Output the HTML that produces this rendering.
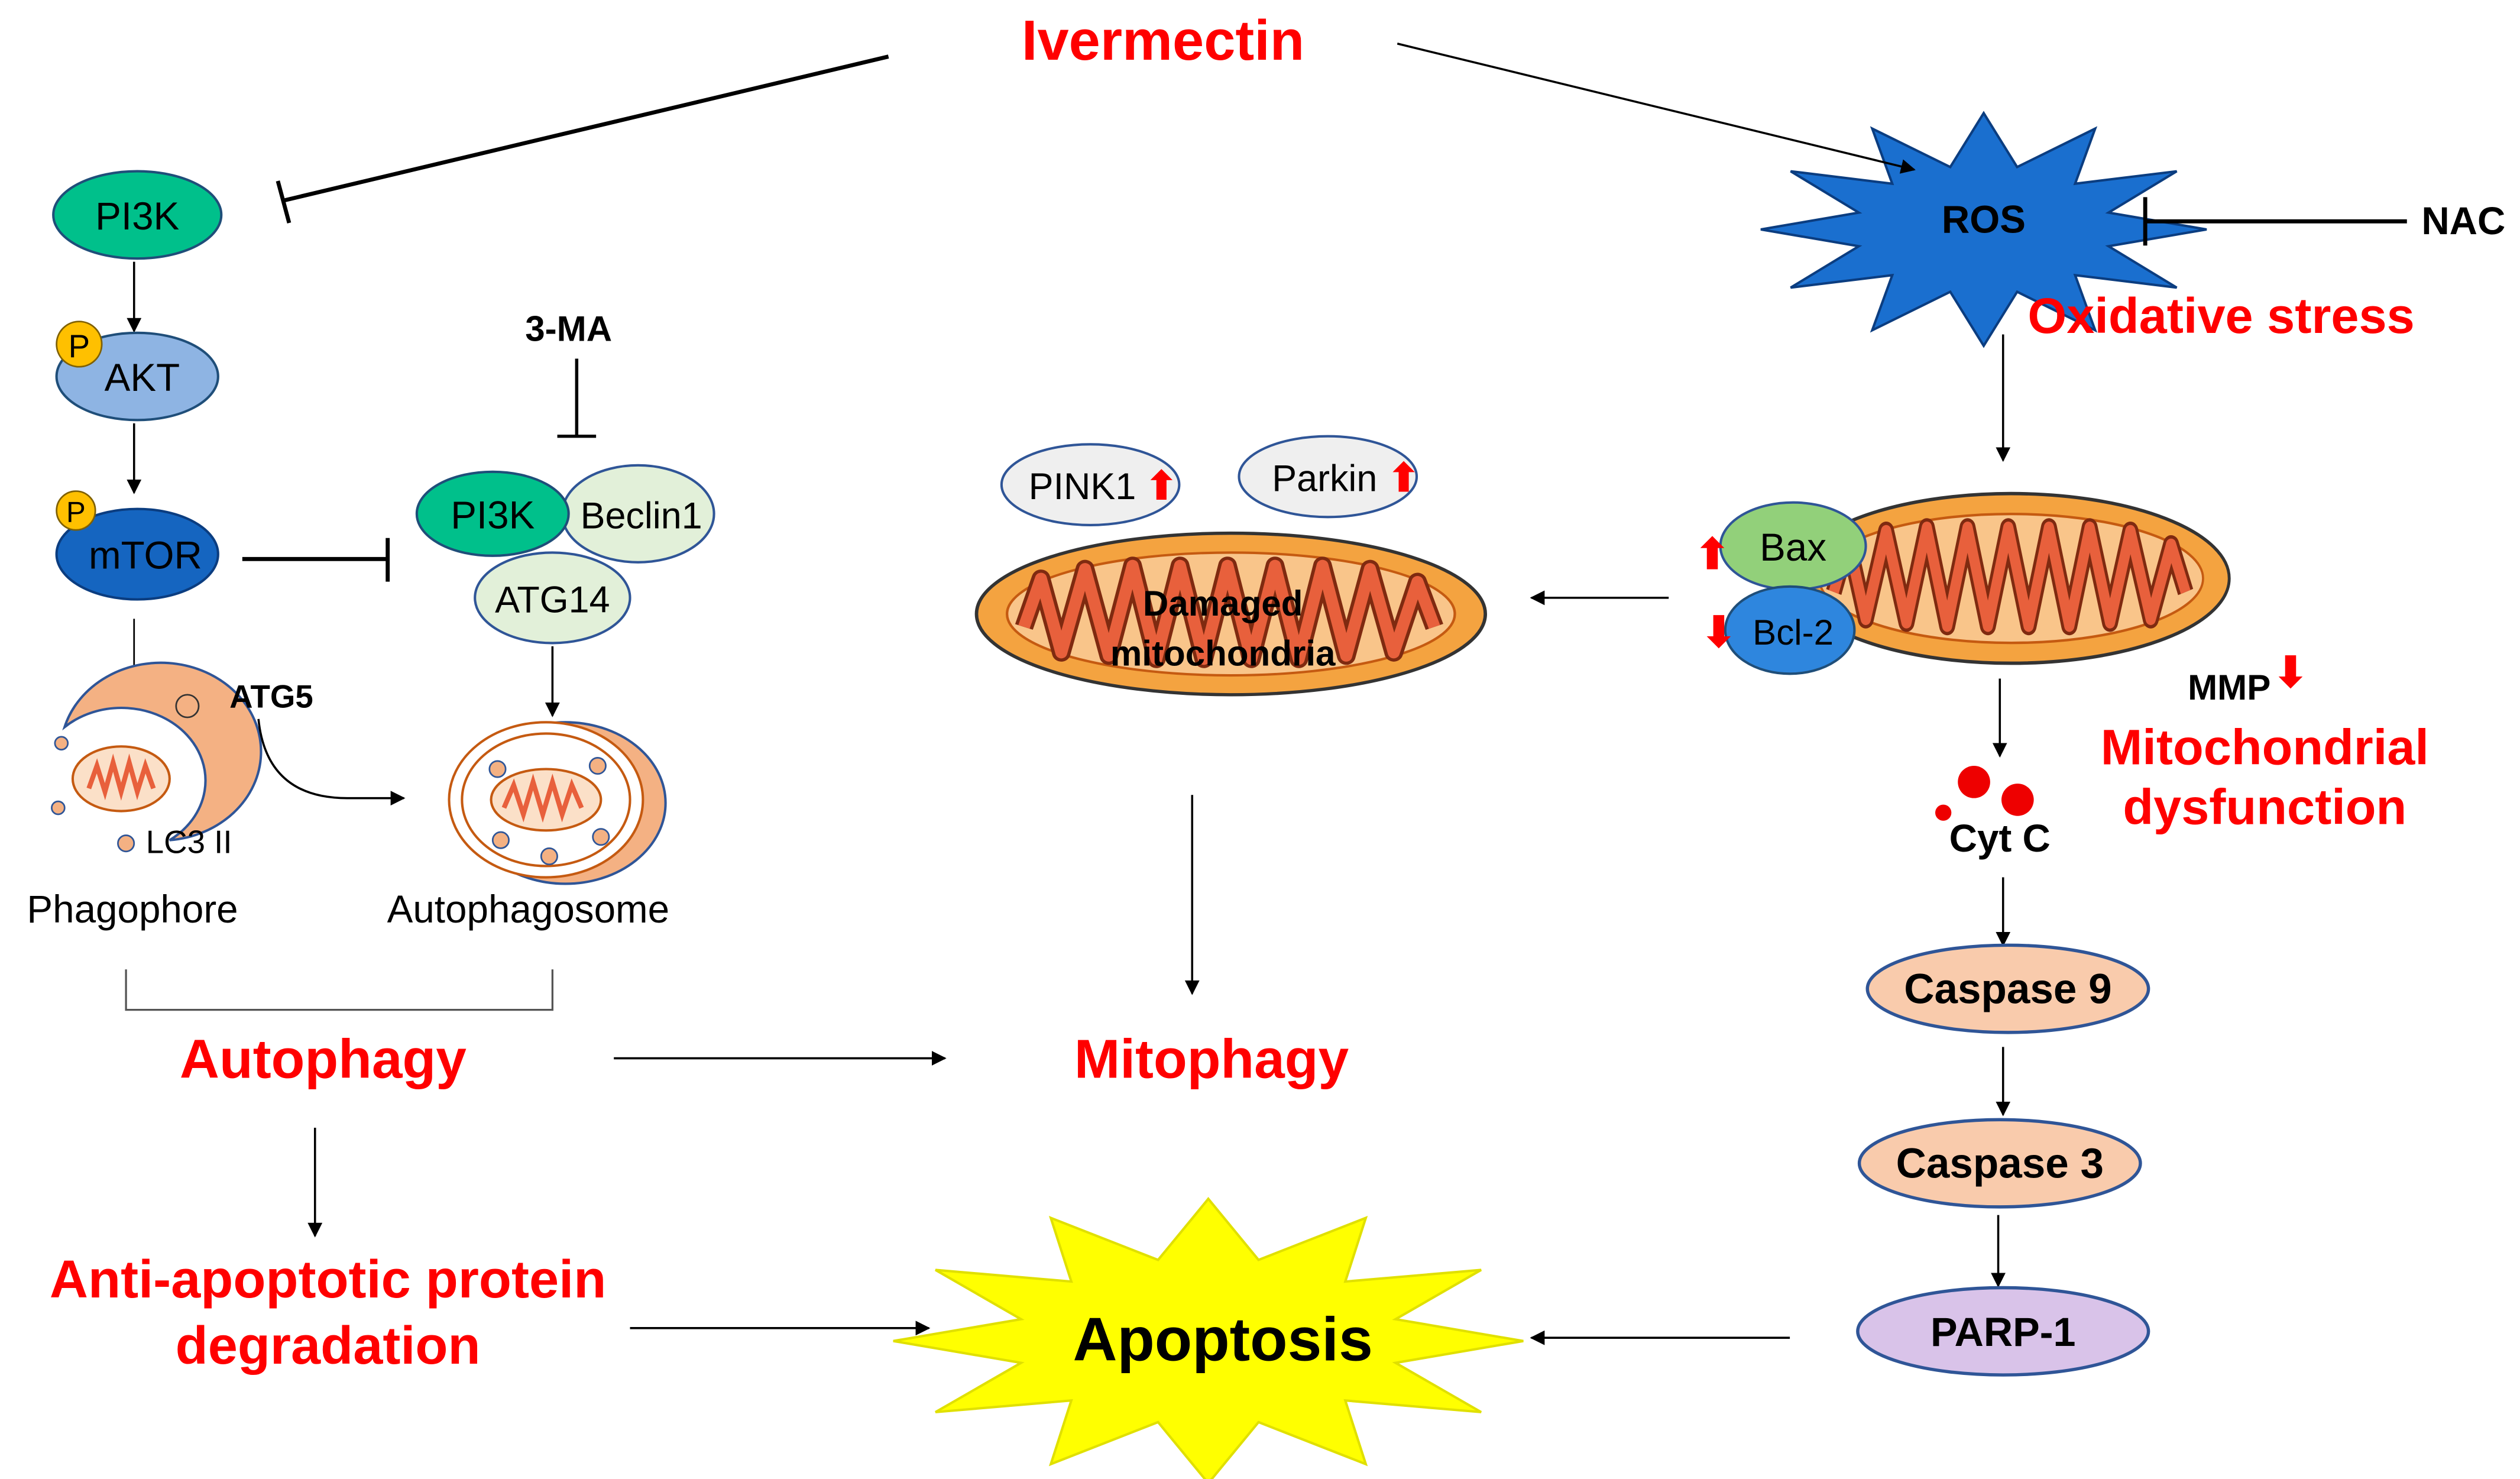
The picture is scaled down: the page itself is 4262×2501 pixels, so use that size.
<!DOCTYPE html>
<html><head><meta charset="utf-8"><style>
html,body{margin:0;padding:0;background:#fff;}
svg{display:block;}
text{font-family:"Liberation Sans",Arial,sans-serif;}
.r{fill:#ff0000;font-weight:bold;}
.b{font-weight:bold;fill:#000;}
</style></head><body>
<svg width="4262" height="2501" viewBox="0 0 1560 915.4" preserveAspectRatio="none" xmlns="http://www.w3.org/2000/svg">
<defs>
<marker id="ar" viewBox="0 0 10 10" refX="9" refY="5" markerWidth="7" markerHeight="7" orient="auto-start-reverse">
<path d="M0,0 L10,5 L0,10 z" fill="#000"/></marker>
<g id="mito">
<ellipse cx="0" cy="0" rx="150" ry="50" fill="#f4a340" stroke="#333" stroke-width="2"/>
<ellipse cx="0" cy="0" rx="132" ry="38" fill="#f9c58a" stroke="#c55a11" stroke-width="1.5"/>
<path d="M-122,8 L-112,-22 L-100,24 L-86,-28 L-72,26 L-58,-30 L-44,28 L-30,-30 L-16,28 L-2,-30 L12,28 L26,-30 L40,28 L54,-30 L68,26 L82,-28 L96,24 L110,-20 L120,8" fill="none" stroke="#7f2a10" stroke-width="11" stroke-linejoin="round"/>
<path d="M-122,8 L-112,-22 L-100,24 L-86,-28 L-72,26 L-58,-30 L-44,28 L-30,-30 L-16,28 L-2,-30 L12,28 L26,-30 L40,28 L54,-30 L68,26 L82,-28 L96,24 L110,-20 L120,8" fill="none" stroke="#e8603c" stroke-width="7" stroke-linejoin="round"/>
</g>
</defs>

<!-- ROS -->
<polygon points="1366,142 1305.3,152.4 1347.5,178 1284.6,170.3 1297,204.4 1248.7,180.6 1228,214 1207.3,180.6 1159,204.4 1171.4,170.3 1108.5,178 1150.7,152.4 1090,142 1150.7,131.6 1108.5,106 1171.4,113.7 1159,79.6 1207.3,103.4 1228,70 1248.7,103.4 1297,79.6 1284.6,113.7 1347.5,106 1305.3,131.6" fill="#1a6fcf" stroke="#0b3d80" stroke-width="1.5"/>
<text x="1228" y="144" class="b" font-size="24" text-anchor="middle">ROS</text>

<!-- Ivermectin -->
<text x="720" y="37" class="r" font-size="35" text-anchor="middle">Ivermectin</text>
<line x1="550" y1="35" x2="176" y2="124" stroke="#000" stroke-width="2.5"/>
<line x1="172" y1="112" x2="179" y2="138" stroke="#000" stroke-width="2.5"/>
<line x1="865" y1="27" x2="1185" y2="105" stroke="#000" stroke-width="1.3" marker-end="url(#ar)"/>

<line x1="1490" y1="137" x2="1328" y2="137" stroke="#000" stroke-width="2.5"/>
<line x1="1328" y1="122" x2="1328" y2="152" stroke="#000" stroke-width="2.5"/>
<text x="1525" y="145" class="b" font-size="24" text-anchor="middle">NAC</text>
<text x="1375" y="206" class="r" font-size="31" text-anchor="middle">Oxidative stress</text>
<line x1="1240" y1="207" x2="1240" y2="285" stroke="#000" stroke-width="1.3" marker-end="url(#ar)"/>

<!-- right mito -->
<use href="#mito" transform="translate(1245,358) scale(0.9,1.05)"/>
<ellipse cx="1110" cy="338" rx="45" ry="27" fill="#92d07a" stroke="#2f5597" stroke-width="1.5"/>
<text x="1110" y="347" font-size="24" text-anchor="middle">Bax</text>
<ellipse cx="1108" cy="390" rx="40" ry="27" fill="#2e86de" stroke="#1f4e79" stroke-width="1.5"/>
<text x="1110" y="399" font-size="22" text-anchor="middle">Bcl-2</text>
<text x="1060" y="352" class="r" font-size="26" text-anchor="middle">⬆</text>
<text x="1064" y="400" class="r" font-size="26" text-anchor="middle">⬇</text>
<line x1="1033" y1="370" x2="948" y2="370" stroke="#000" stroke-width="1.3" marker-end="url(#ar)"/>
<text x="1380" y="433" class="b" font-size="22" text-anchor="middle">MMP</text>
<text x="1418" y="425" class="r" font-size="26" text-anchor="middle">⬇</text>
<text x="1402" y="473" class="r" font-size="31" text-anchor="middle">Mitochondrial</text>
<text x="1402" y="510" class="r" font-size="31" text-anchor="middle">dysfunction</text>
<line x1="1238" y1="420" x2="1238" y2="468" stroke="#000" stroke-width="1.3" marker-end="url(#ar)"/>
<circle cx="1222" cy="484" r="10" fill="#e00"/>
<circle cx="1249" cy="495" r="10" fill="#e00"/>
<circle cx="1203" cy="503" r="5" fill="#e00"/>
<text x="1238" y="527" class="b" font-size="24" text-anchor="middle">Cyt C</text>
<line x1="1240" y1="543" x2="1240" y2="585" stroke="#000" stroke-width="1.3" marker-end="url(#ar)"/>
<ellipse cx="1243" cy="612" rx="87" ry="27" fill="#f9cbac" stroke="#2f5597" stroke-width="2"/>
<text x="1243" y="621" class="b" font-size="26" text-anchor="middle">Caspase 9</text>
<line x1="1240" y1="648" x2="1240" y2="690" stroke="#000" stroke-width="1.3" marker-end="url(#ar)"/>
<ellipse cx="1238" cy="720" rx="87" ry="27" fill="#f9cbac" stroke="#2f5597" stroke-width="2"/>
<text x="1238" y="729" class="b" font-size="26" text-anchor="middle">Caspase 3</text>
<line x1="1237" y1="752" x2="1237" y2="796" stroke="#000" stroke-width="1.3" marker-end="url(#ar)"/>
<ellipse cx="1240" cy="824" rx="90" ry="27" fill="#d9c3e9" stroke="#2f5597" stroke-width="2"/>
<text x="1240" y="833" class="b" font-size="25" text-anchor="middle">PARP-1</text>
<line x1="1108" y1="828" x2="948" y2="828" stroke="#000" stroke-width="1.3" marker-end="url(#ar)"/>

<!-- Apoptosis -->
<polygon points="943,830 863.9,843.5 916.9,874 832.8,866.8 845.5,906.2 779.1,880.2 748,918 716.9,880.2 650.5,906.2 663.2,866.8 579.1,874 632.1,843.5 553,830 632.1,816.5 579.1,786 663.2,793.2 650.5,753.8 716.9,779.8 748,742 779.1,779.8 845.5,753.8 832.8,793.2 916.9,786 863.9,816.5" fill="#ffff00" stroke="#e0e000" stroke-width="1.5"/>
<text x="757" y="842" class="b" font-size="38" text-anchor="middle">Apoptosis</text>
<line x1="390" y1="822" x2="575" y2="822" stroke="#000" stroke-width="1.3" marker-end="url(#ar)"/>
<text x="203" y="803" class="r" font-size="33" text-anchor="middle">Anti-apoptotic protein</text>
<text x="203" y="844" class="r" font-size="33" text-anchor="middle">degradation</text>
<line x1="195" y1="698" x2="195" y2="765" stroke="#000" stroke-width="1.3" marker-end="url(#ar)"/>
<text x="200" y="667" class="r" font-size="34" text-anchor="middle">Autophagy</text>
<text x="750" y="667" class="r" font-size="34" text-anchor="middle">Mitophagy</text>
<line x1="380" y1="655" x2="585" y2="655" stroke="#000" stroke-width="1.3" marker-end="url(#ar)"/>
<line x1="738" y1="492" x2="738" y2="615" stroke="#000" stroke-width="1.3" marker-end="url(#ar)"/>

<!-- damaged mito -->
<use href="#mito" transform="translate(762,380) scale(1.05,1)"/>
<ellipse cx="675" cy="300" rx="55" ry="25" fill="#efefef" stroke="#2f5597" stroke-width="1.5"/>
<text x="670" y="309" font-size="23" text-anchor="middle">PINK1</text>
<text x="719" y="309" class="r" font-size="24" text-anchor="middle">⬆</text>
<ellipse cx="822" cy="295" rx="55" ry="25" fill="#efefef" stroke="#2f5597" stroke-width="1.5"/>
<text x="820" y="304" font-size="23" text-anchor="middle">Parkin</text>
<text x="869" y="304" class="r" font-size="24" text-anchor="middle">⬆</text>
<text x="757" y="381" class="b" font-size="22" text-anchor="middle">Damaged</text>
<text x="757" y="412" class="b" font-size="22" text-anchor="middle">mitochondria</text>

<!-- left pathway -->
<ellipse cx="85" cy="133" rx="52" ry="27" fill="#00c08b" stroke="#1f4e79" stroke-width="1.5"/>
<text x="85" y="142" font-size="24" text-anchor="middle">PI3K</text>
<line x1="83" y1="162" x2="83" y2="205" stroke="#000" stroke-width="1.3" marker-end="url(#ar)"/>
<ellipse cx="85" cy="233" rx="50" ry="27" fill="#8eb4e3" stroke="#1f4e79" stroke-width="1.5"/>
<text x="88" y="242" font-size="24" text-anchor="middle">AKT</text>
<circle cx="49" cy="213" r="14" fill="#ffc000" stroke="#7f6000"/>
<text x="49" y="221" font-size="20" text-anchor="middle">P</text>
<line x1="83" y1="262" x2="83" y2="305" stroke="#000" stroke-width="1.3" marker-end="url(#ar)"/>
<ellipse cx="85" cy="343" rx="50" ry="28" fill="#1565c0" stroke="#0b3d80" stroke-width="1.5"/>
<text x="90" y="352" font-size="24" text-anchor="middle">mTOR</text>
<circle cx="47" cy="316" r="12" fill="#ffc000" stroke="#7f6000"/>
<text x="47" y="323" font-size="18" text-anchor="middle">P</text>
<line x1="150" y1="346" x2="240" y2="346" stroke="#000" stroke-width="2.5"/>
<line x1="240" y1="333" x2="240" y2="360" stroke="#000" stroke-width="2.5"/>
<line x1="83" y1="383" x2="83" y2="433" stroke="#000" stroke-width="1"/>
<line x1="68" y1="433" x2="98" y2="433" stroke="#000" stroke-width="1.5"/>

<!-- phagophore -->
<path d="M40,450 A62,55 0 1 1 105,520 A52,45 0 1 0 40,450 z" fill="#f4b183" stroke="#2f5597" stroke-width="1.5"/>
<ellipse cx="75" cy="482" rx="30" ry="20" fill="#fbe0c8" stroke="#c55a11" stroke-width="1.5"/>
<path d="M55,488 L60,474 L65,490 L70,472 L75,490 L80,472 L85,490 L90,474 L95,488" fill="none" stroke="#e8603c" stroke-width="3"/>
<circle cx="116" cy="437" r="7" fill="#f4b183" stroke="#333"/>
<circle cx="38" cy="460" r="4" fill="#f4b183" stroke="#2f5597"/>
<circle cx="36" cy="500" r="4" fill="#f4b183" stroke="#2f5597"/>
<circle cx="78" cy="522" r="5" fill="#f4b183" stroke="#2f5597"/>
<text x="168" y="438" class="b" font-size="20" text-anchor="middle">ATG5</text>
<path d="M160,445 Q165,494 215,494 L250,494" fill="none" stroke="#000" stroke-width="1.3" marker-end="url(#ar)"/>
<text x="117" y="528" font-size="20" text-anchor="middle">LC3 II</text>
<text x="82" y="571" font-size="24" text-anchor="middle">Phagophore</text>

<!-- autophagosome -->
<ellipse cx="350" cy="497" rx="62" ry="50" fill="#f4b183" stroke="#2f5597" stroke-width="1.5"/>
<ellipse cx="338" cy="495" rx="60" ry="48" fill="#fff" stroke="#c55a11" stroke-width="1.5"/>
<ellipse cx="338" cy="495" rx="52" ry="41" fill="#fff" stroke="#c55a11" stroke-width="1.5"/>
<ellipse cx="338" cy="495" rx="34" ry="19" fill="#fbe0c8" stroke="#c55a11" stroke-width="1.5"/>
<path d="M312,500 L318,486 L324,504 L330,484 L336,504 L342,484 L348,504 L354,486 L360,500" fill="none" stroke="#e8603c" stroke-width="3"/>
<circle cx="308" cy="476" r="5" fill="#f4b183" stroke="#2f5597"/>
<circle cx="370" cy="474" r="5" fill="#f4b183" stroke="#2f5597"/>
<circle cx="310" cy="520" r="5" fill="#f4b183" stroke="#2f5597"/>
<circle cx="340" cy="530" r="5" fill="#f4b183" stroke="#2f5597"/>
<circle cx="372" cy="518" r="5" fill="#f4b183" stroke="#2f5597"/>
<text x="327" y="571" font-size="24" text-anchor="middle">Autophagosome</text>
<path d="M78,600 L78,625 L342,625 L342,600" fill="none" stroke="#555" stroke-width="1.2"/>

<!-- 3-MA complex -->
<text x="352" y="211" class="b" font-size="22" text-anchor="middle">3-MA</text>
<line x1="357" y1="222" x2="357" y2="270" stroke="#000" stroke-width="2"/>
<line x1="345" y1="270" x2="369" y2="270" stroke="#000" stroke-width="2"/>
<ellipse cx="395" cy="318" rx="47" ry="30" fill="#e2f0d9" stroke="#2f5597" stroke-width="1.5"/>
<text x="397" y="327" font-size="23" text-anchor="middle">Beclin1</text>
<ellipse cx="305" cy="318" rx="47" ry="26" fill="#00c08b" stroke="#1f4e79" stroke-width="1.5"/>
<text x="305" y="327" font-size="24" text-anchor="middle">PI3K</text>
<ellipse cx="342" cy="370" rx="48" ry="28" fill="#e2f0d9" stroke="#2f5597" stroke-width="1.5"/>
<text x="342" y="379" font-size="23" text-anchor="middle">ATG14</text>
<line x1="342" y1="400" x2="342" y2="443" stroke="#000" stroke-width="1.3" marker-end="url(#ar)"/>
</svg>
</body></html>
